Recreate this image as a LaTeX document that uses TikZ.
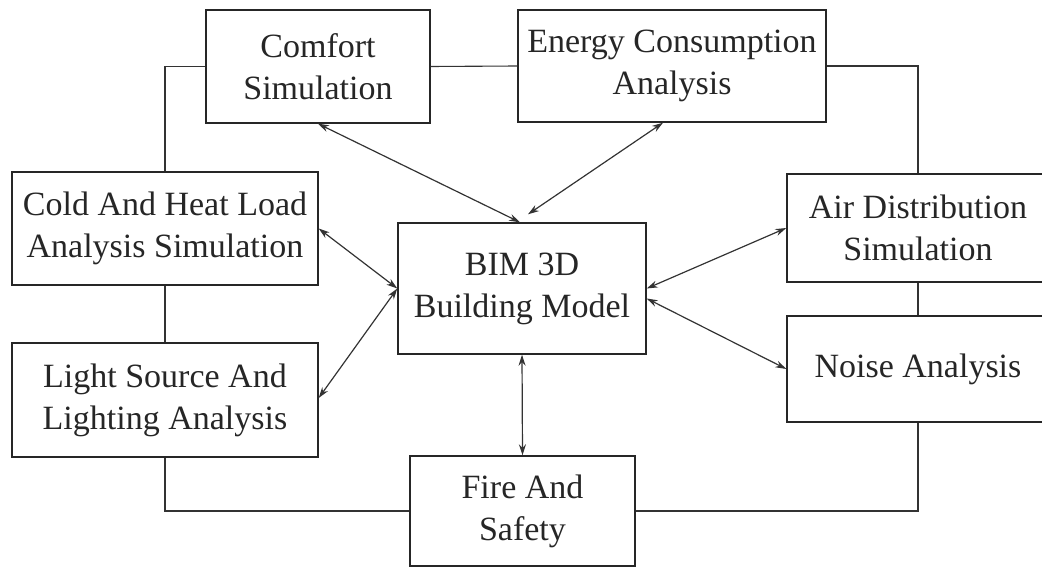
\documentclass[tikz,border=0pt]{standalone}
\usepackage{fontspec}
\setmainfont{Liberation Serif}
\usetikzlibrary{arrows.meta}
\tikzset{
  box/.style={draw=black!85, line width=1.4bp, fill=white, align=center, inner sep=0pt,
    font=\fontsize{34bp}{42bp}\selectfont, text=black!85},
  link/.style={draw=black!80, line width=1.1bp},
  biarrow/.style={draw=black!80, line width=1.2bp, {Stealth[length=11bp,width=7bp]}-{Stealth[length=11bp,width=7bp]}}
}
\begin{document}
\begin{tikzpicture}[x=1bp,y=-1bp]
\useasboundingbox (0,0) rectangle (1042,568);
\clip (0,0) rectangle (1042,568);
\node[box, minimum width=224bp, minimum height=113bp] (comfort) at (318,66.5) {Comfort\\Simulation};
\node[box, minimum width=308bp, minimum height=112bp] (energy) at (672,66) {Energy Consumption\\Analysis};
\node[box, minimum width=306bp, minimum height=113bp] (cold) at (165,228.5) {Cold And Heat Load\\Analysis Simulation};
\node[box, minimum width=306bp, minimum height=114bp] (light) at (165,400) {Light Source And\\Lighting Analysis};
\node[box, minimum width=248bp, minimum height=131bp] (bim) at (522,288.5) {BIM 3D\\Building Model};
\node[box, minimum width=262bp, minimum height=108bp] (air) at (918,228) {Air Distribution\\Simulation};
\node[box, minimum width=262bp, minimum height=106bp] (noise) at (918,369) {Noise Analysis};
\node[box, minimum width=225bp, minimum height=110bp] (fire) at (522.5,511) {Fire And\\Safety};

\draw[link] (comfort.west) -| (cold.north);
\draw[link] (comfort.east) -- (energy.west);
\draw[link] (energy.east) -| (air.north);
\draw[link] (air.south) -- (noise.north);
\draw[link] (cold.south) -- (light.north);
\draw[link] (light.south) |- (fire.west);
\draw[link] (fire.east) -| (noise.south);

\draw[biarrow] (comfort.south) -- ([xshift=-2bp]bim.north);
\draw[biarrow] ([xshift=-9bp]energy.south) -- ([xshift=6bp,yshift=8bp]bim.north);
\draw[biarrow] (cold.east) -- (bim.west);
\draw[biarrow] ([yshift=2bp]light.east) -- (bim.west);
\draw[biarrow] (bim.east) -- (air.west);
\draw[biarrow] ([yshift=-10bp]bim.east) -- (noise.west);
\draw[biarrow] (bim.south) -- (fire.north);
\end{tikzpicture}
\end{document}
